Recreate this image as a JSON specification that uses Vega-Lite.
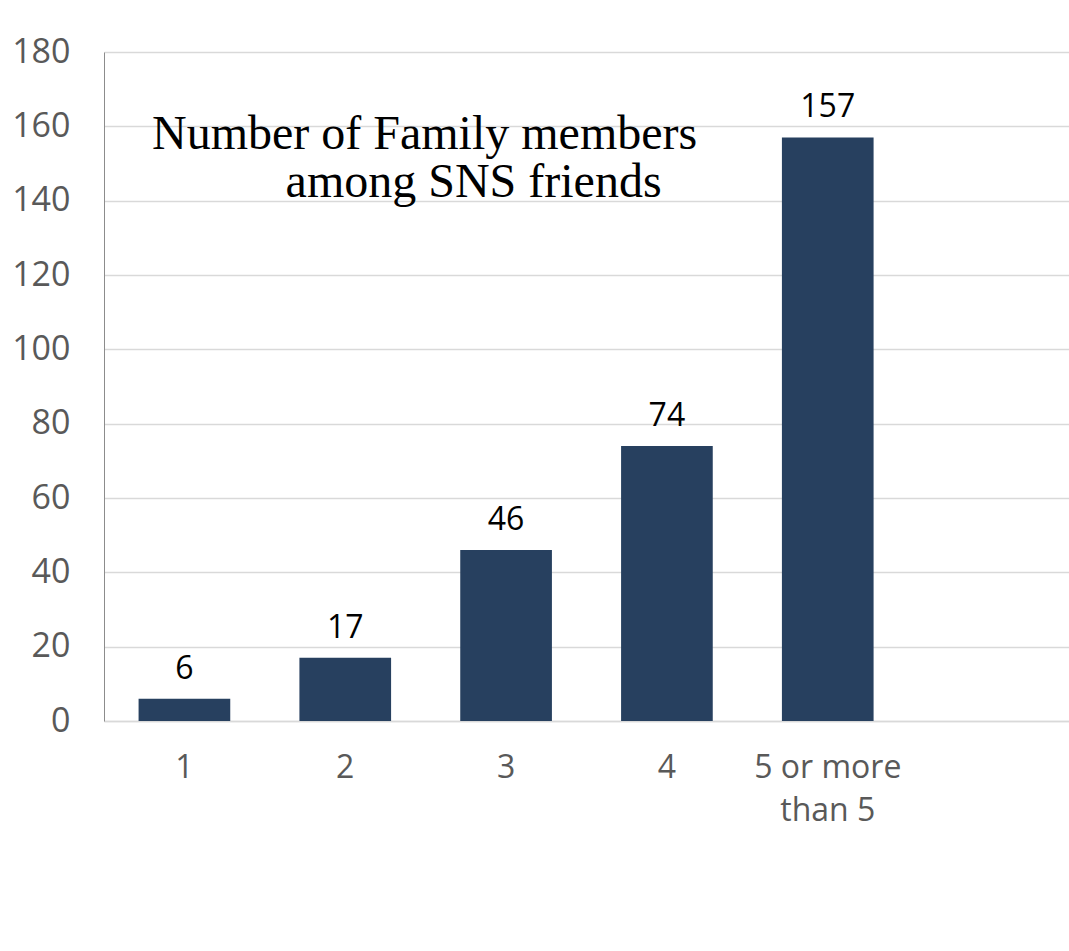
{
  "$schema": "https://vega.github.io/schema/vega-lite/v6.json",
  "width": 965,
  "height": 669,
  "autosize": {"type": "none"},
  "padding": {"left": 104, "top": 52, "right": 0, "bottom": 230},
  "background": "white",
  "title": {
    "text": ["Number of Family members", "\u200b\u2003\u2003\u2002\u2009\u200aamong SNS friends"],
    "anchor": "start",
    "frame": "group",
    "align": "left",
    "orient": "top",
    "dx": 48,
    "offset": -210,
    "baseline": "alphabetic",
    "font": "Liberation Serif",
    "fontSize": 48,
    "fontWeight": "normal",
    "color": "#000000",
    "lineHeight": 48
  },
  "data": {
    "values": [
      {"category": "1", "count": 6},
      {"category": "2", "count": 17},
      {"category": "3", "count": 46},
      {"category": "4", "count": 74},
      {"category": "5 or more than 5", "count": 157}
    ]
  },
  "encoding": {
    "x": {
      "field": "category",
      "type": "ordinal",
      "sort": null,
      "scale": {
        "domain": ["1", "2", "3", "4", "5 or more than 5", "6"],
        "paddingInner": 0.43,
        "paddingOuter": 0.215
      },
      "axis": {
        "title": null,
        "labelAngle": 0,
        "ticks": false,
        "domainColor": "#d9d9d9",
        "domainWidth": 1.5,
        "labelFont": "Open Sans",
        "labelFontSize": 32,
        "labelColor": "#595959",
        "labelPadding": 31,
        "labelBaseline": "top",
        "labelLineHeight": 43,
        "labelExpr": "datum.value == '5 or more than 5' ? ['5 or more', 'than 5'] : (datum.value == '6' ? '' : datum.label)"
      }
    },
    "y": {
      "field": "count",
      "type": "quantitative",
      "scale": {"domain": [0, 180], "nice": false},
      "axis": {
        "title": null,
        "values": [0, 20, 40, 60, 80, 100, 120, 140, 160, 180],
        "grid": true,
        "gridColor": "#d9d9d9",
        "gridWidth": 1.5,
        "domainColor": "#8c8c8c",
        "domainWidth": 1,
        "ticks": false,
        "labelPadding": 34,
        "labelFont": "Open Sans",
        "labelFontSize": 34,
        "labelColor": "#595959"
      }
    }
  },
  "layer": [
    {"mark": {"type": "bar", "color": "#27405f"}},
    {
      "mark": {
        "type": "text",
        "baseline": "alphabetic",
        "dy": -20,
        "font": "Open Sans",
        "fontSize": 32,
        "color": "#000000"
      },
      "encoding": {"text": {"field": "count", "type": "quantitative"}}
    }
  ],
  "config": {"view": {"stroke": null}}
}
